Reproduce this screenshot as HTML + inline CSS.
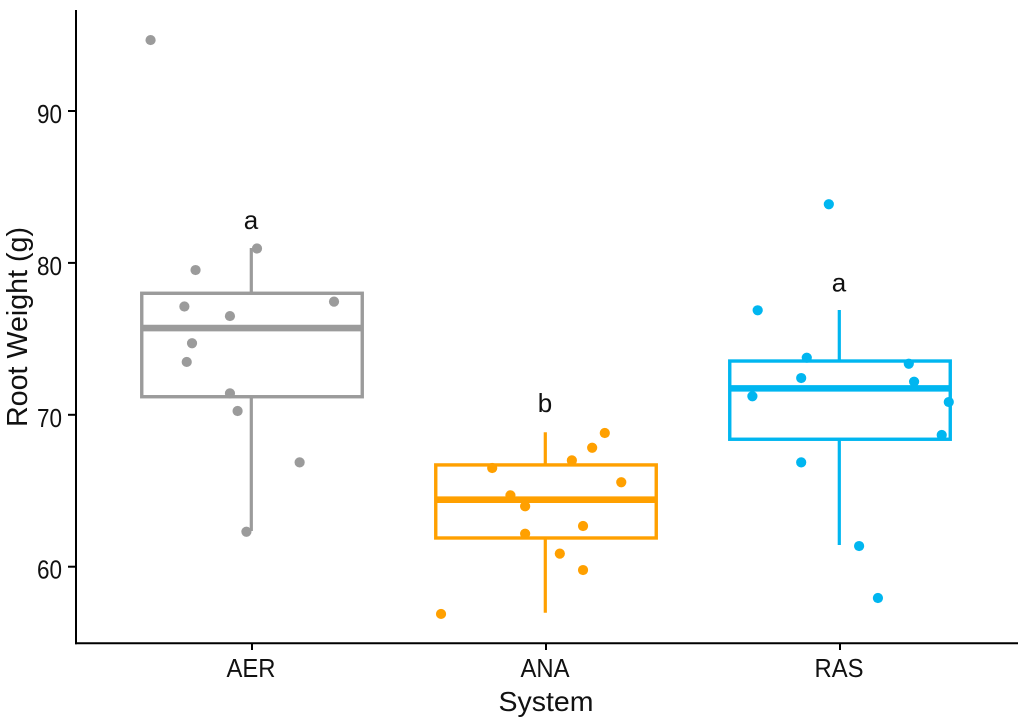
<!DOCTYPE html>
<html>
<head>
<meta charset="utf-8">
<title>Root Weight by System</title>
<style>
html,body{margin:0;padding:0;background:#fff;width:1024px;height:722px;overflow:hidden}
svg{display:block}
text{font-family:"Liberation Sans",sans-serif;fill:#111}
</style>
</head>
<body>
<svg id="chart" width="1024" height="722" viewBox="0 0 1024 722" xmlns="http://www.w3.org/2000/svg">
  <g id="marks"></g>
  <g id="axes">
    <line x1="76" y1="10" x2="76" y2="644.3" stroke="#000" stroke-width="2"/>
    <line x1="75" y1="643.3" x2="1018" y2="643.3" stroke="#000" stroke-width="2"/>
  </g>
  <text transform="translate(27,427) rotate(-90)" font-size="29" textLength="200" lengthAdjust="spacingAndGlyphs">Root Weight (g)</text>
  <text x="546" y="711" font-size="28" text-anchor="middle" textLength="95" lengthAdjust="spacingAndGlyphs">System</text>
</svg>
<script>
const categories = ["AER", "ANA", "RAS"];
const seriesColors = ["#9b9b9b", "#ffa000", "#00b6f0"];
const yTicks = [60, 70, 80, 90];
const q1Values = [71.19, 61.89, 68.39];
const medianValues = [75.71, 64.41, 71.74];
const q3Values = [78.0, 66.70, 73.54];
const whiskerLow = [62.35, 56.97, 61.43];
const whiskerHigh = [80.98, 68.85, 76.9];
const letterLabels = ["a", "b", "a"];
const letterValues = [82.23, 70.18, 78.11];
const aerValues = [94.67, 80.95, 79.53, 77.13, 76.50, 77.45, 74.71, 73.48, 71.41, 70.25, 66.87, 62.30];
const aerJitter = [-0.345, 0.017, -0.192, -0.23, -0.075, 0.279, -0.204, -0.222, -0.075, -0.049, 0.162, -0.019];
const anaValues = [68.80, 67.83, 67.0, 66.50, 65.56, 64.70, 63.98, 62.68, 62.17, 60.86, 59.78, 56.89];
const anaJitter = [0.2, 0.157, 0.088, -0.183, 0.256, -0.121, -0.071, 0.126, -0.071, 0.047, 0.126, -0.357];
const rasValues = [83.86, 76.88, 73.76, 73.36, 72.42, 72.18, 71.22, 70.84, 68.67, 66.87, 61.36, 57.94];
const rasJitter = [-0.038, -0.28, -0.113, 0.234, -0.132, 0.252, -0.298, 0.37, 0.346, -0.132, 0.065, 0.129];

const pointValues = [aerValues, anaValues, rasValues];
const pointJitter = [aerJitter, anaJitter, rasJitter];

function xScale(c) { return 252 + c * 294; }
function yScale(v) { return 566.7 - (v - 60) * 15.19; }

const NS = "http://www.w3.org/2000/svg";
const BOX_HALF = 0.375;
const marks = document.getElementById("marks");
const axes = document.getElementById("axes");

function make(tag, parent, props) {
  const el = document.createElementNS(NS, tag);
  for (const k in props) el.setAttribute(k, props[k]);
  parent.appendChild(el);
  return el;
}

yTicks.forEach(function (t) {
  const tick = make("line", axes, { x1: 68, x2: 76, y1: yScale(t), y2: yScale(t), stroke: "#000", "stroke-width": 2 });
  
  
  const label = make("text", axes, { x: 62, y: yScale(t) + 12, "font-size": 26, "text-anchor": "end", textLength: 25, lengthAdjust: "spacingAndGlyphs" });
  label.textContent = String(t);
  
  
});

categories.forEach(function (name, i) {
  const cx = xScale(i);
  const color = seriesColors[i];

  const tick = make("line", axes, { x1: cx, x2: cx, y1: 643.3, y2: 650, stroke: "#000", "stroke-width": 2 });
  
  
  const label = make("text", axes, { x: cx - 1, y: 677, "font-size": 26, "text-anchor": "middle", textLength: 49, lengthAdjust: "spacingAndGlyphs" });
  label.textContent = name;
  
  

  const group = make("g", marks, {});
  
  

  const upper = make("line", group, { x1: cx - 0.7, x2: cx - 0.7, y1: yScale(q3Values[i]), y2: yScale(whiskerHigh[i]), stroke: color, "stroke-width": 3.2 });
  
  
  const lower = make("line", group, { x1: cx - 0.7, x2: cx - 0.7, y1: yScale(q1Values[i]), y2: yScale(whiskerLow[i]), stroke: color, "stroke-width": 3.2 });
  
  

  const left = xScale(i - BOX_HALF);
  const right = xScale(i + BOX_HALF);
  const box = make("rect", group, { x: left, y: yScale(q3Values[i]), width: right - left, height: yScale(q1Values[i]) - yScale(q3Values[i]), fill: "none", stroke: color, "stroke-width": 3.4 });
  
  
  const median = make("line", group, { x1: left, x2: right, y1: yScale(medianValues[i]), y2: yScale(medianValues[i]), stroke: color, "stroke-width": 6.6 });
  
  

  pointValues[i].forEach(function (v, j) {
    const dot = make("circle", group, { cx: xScale(i + pointJitter[i][j]), cy: yScale(v), r: 5.1, fill: color });
    
    
  });

  const letter = make("text", marks, { x: cx - 1, y: yScale(letterValues[i]), "font-size": 26, "text-anchor": "middle" });
  letter.textContent = letterLabels[i];
  
  
});
</script>
</body>
</html>
